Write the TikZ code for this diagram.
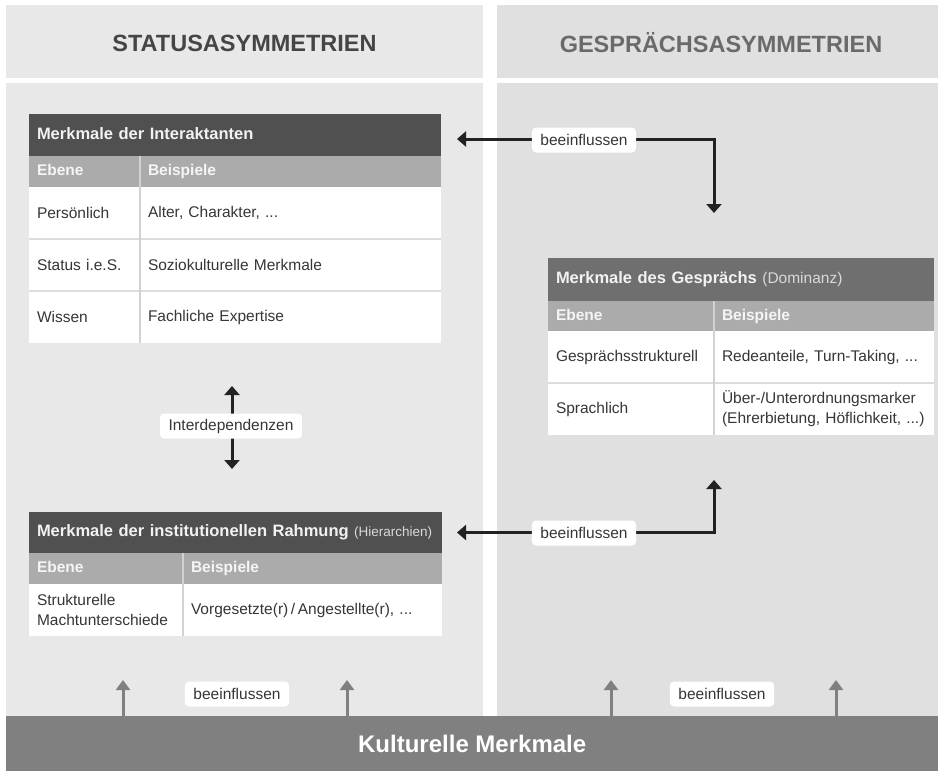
\documentclass[tikz,border=0pt]{standalone}
\usepackage{fontspec}
\setmainfont{Liberation Sans}
\usetikzlibrary{arrows.meta,calc}
\definecolor{panelL}{HTML}{E8E8E8}
\definecolor{panelR}{HTML}{E0E0E0}
\definecolor{headdark}{HTML}{505050}
\definecolor{headmid}{HTML}{6F6F6F}
\definecolor{subhead}{HTML}{ABABAB}
\definecolor{rowline}{HTML}{DCDCDC}
\definecolor{coldiv}{HTML}{D2D2D2}
\definecolor{barc}{HTML}{808080}
\definecolor{txt}{HTML}{363636}
\definecolor{arrowc}{HTML}{222222}
\definecolor{titleL}{HTML}{454545}
\definecolor{titleR}{HTML}{6A6A6A}
\newcommand\myHead{\fontsize{16.5}{20}\selectfont\bfseries}
\newcommand\mySub{\fontsize{15.5}{19}\selectfont\bfseries}
\newcommand\myBody{\fontsize{15.5}{20}\selectfont}
\newcommand\myLab{\fontsize{15.5}{19}\selectfont}
\newcommand\myTitle{\fontsize{23.5}{28}\selectfont\bfseries}
\tikzset{
  cellbase/.style={anchor=north west, inner xsep=8pt, inner ysep=0pt, align=left, outer sep=0pt},
  thead/.style={cellbase, fill=headdark, text=white!95!black, font=\myHead, text height=12pt, text depth=3.5pt},
  tsub/.style={cellbase, fill=subhead, text=white!96!black, font=\mySub, minimum height=31pt, text height=11.5pt, text depth=3.5pt},
  tcell/.style={cellbase, fill=white, text=txt, font=\myBody, minimum height=52pt},
  rowsep/.style={draw=rowline, line width=1.5pt},
  colsep/.style={draw=coldiv, line width=1.5pt},
  conn/.style={draw=arrowc, line width=3pt, {Triangle[width=15pt,length=9pt]}-{Triangle[width=15pt,length=9pt]}},
  garrow/.style={draw=barc, line width=3pt, -{Triangle[width=14pt,length=10pt]}},
  lab/.style={fill=white, rounded corners=4pt, inner xsep=8.5pt, inner ysep=0pt, minimum height=25pt, font=\myLab, text=txt},
  title/.style={font=\myTitle},
}
\begin{document}
\begin{tikzpicture}[x=1pt,y=-1pt]
\useasboundingbox (0,0) rectangle (938,771);
\fill[white] (0,0) rectangle (938,771);
% panels
\fill[panelL] (6,5) rectangle (483,78);
\fill[panelL] (6,83) rectangle (483,716);
\fill[panelR] (497,5) rectangle (938,78);
\fill[panelR] (497,83) rectangle (938,716);
\node[title, text=titleL] (hL) at (244.5,43) {STATUSASYMMETRIEN};
\node[title, text=titleR] (hR) at (721,43) {GESPRÄCHSASYMMETRIEN};
% bottom bar
\node[anchor=north west, fill=barc, minimum width=932pt, minimum height=55pt, inner sep=0pt, text=white, font=\fontsize{24}{28}\selectfont\bfseries] (kult) at (6,716) {Kulturelle Merkmale};

% Table 1
\node[thead, text width=396pt, minimum height=42pt] (t1) at (29,114) {Merkmale der Interaktanten};
\node[tsub, text width=95pt] (t1sa) at (29,156) {Ebene};
\node[tsub, text width=285pt] (t1sb) at (140,156) {Beispiele};
\node[tcell, text width=95pt] (t1r1a) at (29,187) {Persönlich};
\node[tcell, text width=285pt] (t1r1b) at (140,187) {Alter, Charakter, ...};
\node[tcell, text width=95pt] (t1r2a) at (29,239) {Status i.e.S.};
\node[tcell, text width=285pt] (t1r2b) at (140,239) {Soziokulturelle Merkmale};
\node[tcell, text width=95pt] (t1r3a) at (29,291) {Wissen};
\node[tcell, text width=285pt] (t1r3b) at (140,291) {Fachliche Expertise};
\draw[rowsep] (t1r1a.south west) -- (t1r1b.south east);
\draw[rowsep] (t1r2a.south west) -- (t1r2b.south east);
\draw[colsep] (t1sb.north west) -- (t1r3b.south west);

% Table 2
\node[thead, fill=headmid, text width=370pt, minimum height=43pt] (t2) at (548,258) {Merkmale des Gesprächs {\mdseries\fontsize{15.5}{19}\selectfont\color{white!85!black}(Dominanz)}};
\node[tsub, text width=150pt, minimum height=30pt] (t2sa) at (548,301) {Ebene};
\node[tsub, text width=204pt, minimum height=30pt] (t2sb) at (714,301) {Beispiele};
\node[tcell, text width=150pt] (t2r1a) at (548,331) {Gesprächsstrukturell};
\node[tcell, text width=204pt] (t2r1b) at (714,331) {Redeanteile, Turn-Taking, ...};
\node[tcell, text width=150pt] (t2r2a) at (548,383) {Sprachlich};
\node[tcell, text width=204pt] (t2r2b) at (714,383) {Über-/Unterordnungsmarker\\(Ehrerbietung, Höflichkeit, ...)};
\draw[rowsep] (t2r1a.south west) -- (t2r1b.south east);
\draw[colsep] (t2sb.north west) -- (t2r2b.south west);

% Table 3
\node[thead, text width=397pt, minimum height=41pt] (t3) at (29,512) {Merkmale der institutionellen Rahmung {\mdseries\fontsize{13.5}{16}\selectfont\color{white!85!black}(Hierarchien)}};
\node[tsub, text width=138pt] (t3sa) at (29,553) {Ebene};
\node[tsub, text width=243pt] (t3sb) at (183,553) {Beispiele};
\node[tcell, text width=138pt] (t3r1a) at (29,584) {Strukturelle\\Machtunterschiede};
\node[tcell, text width=243pt] (t3r1b) at (183,584) {Vorgesetzte(r)\,/\,Angestellte(r), ...};
\draw[colsep] (t3sb.north west) -- (t3r1b.south west);

% connectors
\path (t2.north -| t2sb.north west) ++(0,-45) coordinate (tipA);
\draw[conn] ([xshift=16pt,yshift=-4pt]t1.east) -| (tipA);
\node[lab] (labA) at (584,140) {beeinflussen};
\path (t2r2b.south west) ++(0,45) coordinate (tipB);
\draw[conn] ([xshift=15pt]t3.east) -| (tipB);
\node[lab] (labB) at (584,533) {beeinflussen};
\path (t1r3a.south -| 232,0) ++(0,43) coordinate (iu);
\path (t3.north -| 232,0) ++(0,-43) coordinate (id);
\draw[conn] (iu) -- (id);
\node[lab] (labI) at (231,426) {Interdependenzen};

% bottom arrows
\foreach \n/\x in {g1/123, g2/347, g3/611, g4/836} {
  \coordinate (\n) at (\x,680);
  \draw[garrow] (\n |- kult.north) -- (\n);
}
\node[lab] (labC) at (237,694) {beeinflussen};
\node[lab] (labD) at (722,694) {beeinflussen};
\end{tikzpicture}
\end{document}
